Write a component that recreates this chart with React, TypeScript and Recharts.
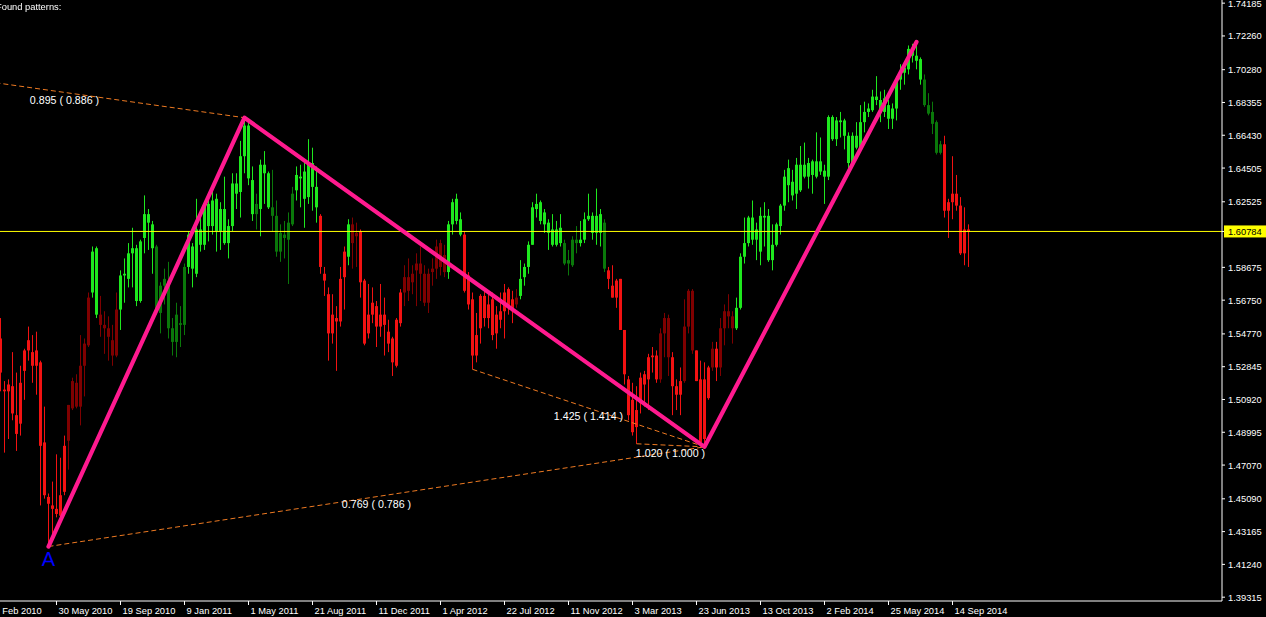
import { ComposedChart, Bar, Line, XAxis, YAxis, ReferenceLine, ReferenceDot } from 'recharts'

// GBPUSD weekly candles, first bar = week of 21 Feb 2010, last = week of 5 Oct 2014
// [open, high, low, close]
const weekly: [number, number, number, number][] = [
  [1.545,1.557,1.514,1.525],[1.515,1.520,1.478,1.514],[1.514,1.521,1.486,1.518],[1.517,1.537,1.497,1.501],
  [1.500,1.525,1.479,1.489],[1.495,1.529,1.488,1.519],[1.526,1.539,1.509,1.538],[1.538,1.552,1.532,1.544],
  [1.537,1.547,1.519,1.529],[1.529,1.549,1.512,1.538],[1.531,1.532,1.447,1.482],[1.484,1.505,1.451,1.453],
  [1.452,1.454,1.4229,1.448],[1.447,1.461,1.427,1.445],[1.445,1.477,1.440,1.442],[1.441,1.475,1.437,1.453],
  [1.455,1.488,1.453,1.482],[1.485,1.506,1.468,1.506],[1.504,1.522,1.503,1.520],[1.519,1.524,1.504,1.505],
  [1.505,1.547,1.494,1.529],[1.529,1.545,1.511,1.542],[1.541,1.572,1.540,1.569],[1.572,1.599,1.569,1.596],
  [1.598,1.599,1.557,1.559],[1.559,1.570,1.546,1.553],[1.553,1.561,1.536,1.551],[1.551,1.558,1.532,1.546],
  [1.544,1.553,1.529,1.535],[1.535,1.572,1.534,1.562],[1.562,1.585,1.550,1.582],[1.582,1.592,1.566,1.583],
  [1.580,1.601,1.575,1.595],[1.595,1.610,1.575,1.598],[1.598,1.600,1.564,1.567],[1.567,1.603,1.566,1.602],
  [1.604,1.629,1.595,1.618],[1.618,1.621,1.597,1.613],[1.612,1.614,1.583,1.598],[1.599,1.600,1.559,1.561],
  [1.560,1.578,1.548,1.576],[1.576,1.586,1.565,1.580],[1.579,1.590,1.545,1.551],[1.551,1.557,1.535,1.543],
  [1.543,1.566,1.534,1.559],[1.553,1.564,1.540,1.554],[1.553,1.589,1.547,1.587],[1.587,1.608,1.583,1.606],
  [1.599,1.601,1.575,1.586],[1.583,1.627,1.581,1.609],[1.609,1.619,1.596,1.600],[1.600,1.625,1.597,1.623],
  [1.624,1.627,1.602,1.611],[1.611,1.634,1.606,1.626],[1.627,1.630,1.596,1.608],[1.608,1.625,1.597,1.621],
  [1.621,1.640,1.600,1.601],[1.601,1.615,1.592,1.611],[1.611,1.642,1.608,1.636],[1.636,1.642,1.621,1.630],
  [1.631,1.661,1.616,1.652],[1.652,1.6746,1.642,1.670],[1.670,1.674,1.635,1.639],[1.638,1.646,1.614,1.618],
  [1.618,1.630,1.609,1.624],[1.621,1.650,1.605,1.647],[1.647,1.655,1.624,1.642],[1.642,1.643,1.621,1.622],
  [1.622,1.644,1.608,1.617],[1.617,1.626,1.593,1.596],[1.596,1.612,1.590,1.607],[1.606,1.614,1.592,1.604],
  [1.603,1.619,1.577,1.613],[1.612,1.634,1.611,1.630],[1.632,1.646,1.626,1.641],[1.640,1.647,1.622,1.639],
  [1.627,1.649,1.610,1.643],[1.628,1.662,1.624,1.647],[1.648,1.657,1.620,1.634],[1.634,1.646,1.613,1.622],
  [1.617,1.618,1.583,1.587],[1.583,1.587,1.570,1.579],[1.571,1.575,1.532,1.548],[1.548,1.571,1.542,1.559],
  [1.557,1.564,1.526,1.555],[1.555,1.587,1.552,1.580],[1.581,1.599,1.562,1.596],[1.593,1.615,1.588,1.612],
  [1.612,1.616,1.586,1.601],[1.605,1.613,1.587,1.607],[1.608,1.609,1.569,1.578],[1.579,1.580,1.541,1.542],
  [1.548,1.577,1.545,1.559],[1.559,1.575,1.554,1.566],[1.564,1.567,1.540,1.552],[1.552,1.577,1.546,1.559],
  [1.559,1.569,1.535,1.553],[1.549,1.556,1.537,1.542],[1.545,1.546,1.523,1.531],[1.529,1.557,1.528,1.556],
  [1.554,1.574,1.552,1.572],[1.572,1.588,1.564,1.581],[1.581,1.592,1.567,1.573],[1.578,1.588,1.571,1.583],
  [1.585,1.595,1.564,1.589],[1.589,1.599,1.567,1.583],[1.583,1.588,1.564,1.566],[1.566,1.586,1.560,1.583],
  [1.584,1.592,1.576,1.586],[1.586,1.603,1.580,1.599],[1.601,1.603,1.582,1.587],[1.584,1.600,1.581,1.594],
  [1.584,1.614,1.580,1.612],[1.612,1.627,1.606,1.625],[1.627,1.630,1.612,1.614],[1.615,1.619,1.605,1.606],
  [1.606,1.608,1.572,1.573],[1.582,1.584,1.562,1.565],[1.568,1.572,1.5269,1.535],[1.535,1.560,1.531,1.547],
  [1.551,1.571,1.542,1.570],[1.570,1.575,1.552,1.557],[1.557,1.571,1.551,1.565],[1.568,1.572,1.544,1.547],
  [1.548,1.564,1.539,1.559],[1.556,1.572,1.551,1.561],[1.561,1.577,1.545,1.572],[1.574,1.575,1.559,1.564],
  [1.561,1.573,1.554,1.568],[1.565,1.574,1.563,1.569],[1.570,1.591,1.568,1.580],[1.581,1.589,1.576,1.587],
  [1.587,1.602,1.583,1.600],[1.600,1.625,1.600,1.622],[1.621,1.630,1.616,1.624],[1.625,1.626,1.612,1.614],
  [1.612,1.621,1.607,1.619],[1.613,1.615,1.597,1.607],[1.609,1.618,1.599,1.600],[1.600,1.614,1.599,1.609],
  [1.610,1.618,1.599,1.601],[1.601,1.603,1.588,1.589],[1.589,1.597,1.582,1.591],[1.588,1.605,1.587,1.603],
  [1.603,1.611,1.595,1.601],[1.601,1.614,1.599,1.603],[1.603,1.619,1.601,1.615],[1.615,1.630,1.614,1.617],
  [1.617,1.619,1.603,1.607],[1.607,1.633,1.600,1.617],[1.618,1.621,1.599,1.607],[1.613,1.615,1.584,1.586],
  [1.585,1.587,1.574,1.580],[1.576,1.588,1.569,1.569],[1.569,1.580,1.563,1.579],[1.580,1.580,1.550,1.550],
  [1.550,1.550,1.518,1.524],[1.521,1.523,1.497,1.500],[1.509,1.519,1.488,1.490],[1.493,1.517,1.4832,1.503],
  [1.507,1.525,1.501,1.522],[1.524,1.526,1.505,1.518],[1.521,1.536,1.503,1.534],[1.534,1.540,1.525,1.535],
  [1.535,1.538,1.519,1.521],[1.521,1.551,1.519,1.548],[1.548,1.560,1.534,1.557],[1.557,1.559,1.523,1.534],
  [1.534,1.537,1.500,1.517],[1.517,1.521,1.503,1.512],[1.512,1.528,1.500,1.520],[1.520,1.568,1.519,1.552],
  [1.552,1.574,1.548,1.573],[1.573,1.574,1.536,1.538],[1.538,1.538,1.520,1.520],[1.521,1.532,1.484,1.484],
  [1.486,1.531,1.4814,1.521],[1.510,1.529,1.509,1.528],[1.528,1.543,1.526,1.539],[1.539,1.543,1.520,1.528],
  [1.528,1.557,1.523,1.551],[1.551,1.565,1.541,1.561],[1.561,1.571,1.551,1.558],[1.558,1.561,1.542,1.551],
  [1.551,1.569,1.550,1.563],[1.563,1.595,1.562,1.593],[1.593,1.616,1.589,1.601],[1.601,1.617,1.599,1.616],
  [1.616,1.626,1.600,1.603],[1.603,1.613,1.591,1.609],[1.596,1.622,1.588,1.617],[1.616,1.625,1.599,1.617],
  [1.617,1.621,1.590,1.591],[1.591,1.612,1.585,1.600],[1.600,1.613,1.599,1.612],[1.611,1.624,1.606,1.623],
  [1.623,1.644,1.620,1.640],[1.635,1.650,1.625,1.645],[1.637,1.644,1.626,1.629],[1.630,1.651,1.621,1.647],
  [1.632,1.658,1.631,1.647],[1.640,1.660,1.639,1.647],[1.648,1.651,1.633,1.640],[1.641,1.650,1.630,1.649],
  [1.649,1.666,1.639,1.640],[1.643,1.663,1.641,1.649],[1.6435,1.647,1.624,1.640],[1.640,1.676,1.638,1.675],
  [1.675,1.676,1.661,1.662],[1.662,1.675,1.658,1.673],[1.673,1.678,1.663,1.672],[1.673,1.674,1.656,1.664],
  [1.664,1.666,1.645,1.648],[1.648,1.666,1.646,1.664],[1.664,1.672,1.656,1.657],[1.657,1.682,1.656,1.672],
  [1.672,1.684,1.666,1.678],[1.678,1.683,1.675,1.680],[1.679,1.691,1.678,1.687],[1.687,1.699,1.682,1.685],
  [1.685,1.690,1.672,1.678],[1.678,1.691,1.675,1.686],[1.682,1.685,1.668,1.674],[1.674,1.683,1.668,1.680],
  [1.680,1.699,1.673,1.697],[1.697,1.706,1.691,1.702],[1.701,1.707,1.694,1.704],[1.703,1.717,1.700,1.715],
  [1.715,1.718,1.707,1.711],[1.711,1.7191,1.703,1.708],[1.709,1.710,1.694,1.697],[1.697,1.700,1.681,1.682],
  [1.682,1.689,1.676,1.677],[1.678,1.684,1.665,1.671],[1.672,1.673,1.653,1.654],[1.654,1.661,1.653,1.659],
  [1.659,1.664,1.616,1.620],[1.620,1.627,1.604,1.625],[1.625,1.652,1.615,1.630],[1.630,1.641,1.620,1.623],
  [1.623,1.628,1.594,1.595],[1.595,1.622,1.588,1.609],[1.609,1.612,1.587,1.6078],
]

// candle colour regime, run-length: R bright red, r dark red, G bright green, g dark green
const toneRuns: [string, number][] = [
  ['R',17],['r',6],['G',2],['r',5],['G',9],['g',8],['G',17],['g',1],['G',3],['g',6],['G',6],
  ['R',7],['G',1],['r',2],['R',11],['r',11],['G',4],['R',13],['r',1],['G',11],['g',4],['G',6],
  ['g',1],['R',13],['r',3],['R',3],['r',3],['R',4],['r',1],['R',1],['r',4],['G',47],['g',5],['R',7],
]

const tickWeeks = [-2, 14, 30, 46, 62, 78, 94, 110, 126, 142, 158, 174, 190, 206, 222, 238]
const tickLabels = [
  '7 Feb 2010', '30 May 2010', '19 Sep 2010', '9 Jan 2011', '1 May 2011', '21 Aug 2011', '11 Dec 2011',
  '1 Apr 2012', '22 Jul 2012', '11 Nov 2012', '3 Mar 2013', '23 Jun 2013', '13 Oct 2013', '2 Feb 2014',
  '25 May 2014', '14 Sep 2014',
]

const priceTicks = [
  1.74185, 1.7226, 1.7028, 1.68355, 1.6643, 1.64505, 1.62525, 1.58675, 1.5675,
  1.5477, 1.52845, 1.5092, 1.48995, 1.4707, 1.4509, 1.43165, 1.4124, 1.39315,
]
const lastPrice = 1.60784

// harmonic pattern pivots (week index, price)
const pivots = [
  { i: 12, p: 1.4229 },
  { i: 61, p: 1.6746 },
  { i: 176, p: 1.4814 },
  { i: 229, p: 1.7191 },
]

const ratioLines = [
  { a: { i: -29, p: 1.7043 }, b: { i: 61, p: 1.6746 }, text: '0.895 ( 0.886 )' },
  { a: { i: 12, p: 1.4229 }, b: { i: 176, p: 1.4814 }, text: '0.769 ( 0.786 )' },
  { a: { i: 118, p: 1.5269 }, b: { i: 176, p: 1.4814 }, text: '1.425 ( 1.414 )' },
  { a: { i: 159, p: 1.4832 }, b: { i: 176, p: 1.4814 }, text: '1.020 ( 1.000 )' },
]

const tones = toneRuns.flatMap(([t, n]) => Array(n).fill(t))
const rows = weekly.map(([open, high, low, close], i) => ({
  i, open, high, low, close, tone: tones[i], range: [low, high],
}))

const toneColor: Record<string, string> = {
  R: '#f21212',
  r: '#7f0000',
  G: '#1ee81e',
  g: '#0a780a',
}

const FONT = '"Liberation Sans", Arial, sans-serif'

function Candle(props: any) {
  const { x, y, width, height, payload } = props
  if (!payload || height == null) return null
  const top = Math.min(y, y + height)
  const h = Math.abs(height)
  const { open, close, high, low, tone } = payload
  const color = toneColor[tone]
  const cx = Math.floor(x + width / 2) + 0.5
  const k = h / (high - low)
  const bTop = top + (high - Math.max(open, close)) * k
  const bBot = top + (high - Math.min(open, close)) * k
  return (
    <g>
      <line x1={cx} x2={cx} y1={top} y2={top + h} stroke={color} strokeWidth={1} />
      <rect x={cx - 1.5} y={bTop} width={3} height={Math.max(1, bBot - bTop)} fill={color} />
    </g>
  )
}

function DateTick({ x, y, payload }: any) {
  const k = tickWeeks.indexOf(payload.value)
  return (
    <text x={x + 2} y={y + 7} fill="#fff" fontSize={9.33} fontFamily={FONT} textAnchor="start">
      {tickLabels[k]}
    </text>
  )
}

function PriceTick({ x, y, payload }: any) {
  const v = payload.value
  if (v === lastPrice) {
    return (
      <g>
        <rect x={x - 4} y={y - 6} width={44} height={12} fill="#ffff00" />
        <text x={x} y={y + 3.5} fill="#000" fontSize={9.33} fontFamily={FONT}>{v.toFixed(5)}</text>
      </g>
    )
  }
  return (
    <text x={x} y={y + 3.5} fill="#fff" fontSize={9.33} fontFamily={FONT}>{v.toFixed(5)}</text>
  )
}

export default function App() {
  return (
    <div style={{ position: 'fixed', left: 0, top: 0, width: 1266, height: 617, background: '#000', fontFamily: FONT }}>
      <ComposedChart width={1266} height={617} data={rows} margin={{ top: 0, right: 0, bottom: 0, left: 0 }}>
        <XAxis
          dataKey="i" type="number" domain={[-0.125, 305.375]} allowDataOverflow
          ticks={tickWeeks} interval={0} tick={<DateTick />} height={16} tickSize={4}
          axisLine={{ stroke: '#fff' }} tickLine={{ stroke: '#fff' }}
        />
        <YAxis
          orientation="right" type="number" domain={[1.39091, 1.7437]} allowDataOverflow
          ticks={[...priceTicks, lastPrice]} interval={0} tick={<PriceTick />} width={44}
          tickSize={3} tickMargin={3} axisLine={{ stroke: '#fff' }} tickLine={{ stroke: '#fff' }}
        />
        <Bar dataKey="range" barSize={3} shape={<Candle />} isAnimationActive={false} />
        <ReferenceLine y={lastPrice} stroke="#ffff00" strokeWidth={1} />
        {ratioLines.map((l, n) => (
          <Line
            key={'r' + n} data={[l.a, l.b]} dataKey="p" type="linear" stroke="#ee7a22" strokeWidth={1}
            strokeDasharray="5 3" dot={false} activeDot={false} isAnimationActive={false}
          />
        ))}
        <Line
          data={pivots} dataKey="p" type="linear" stroke="#ff1a8f" strokeWidth={4.2}
          strokeLinejoin="round" strokeLinecap="round" dot={false} activeDot={false} isAnimationActive={false}
        />
        {ratioLines.map((l, n) => (
          <ReferenceDot
            key={'t' + n} x={(l.a.i + l.b.i) / 2} y={(l.a.p + l.b.p) / 2} r={0}
            shape={(p: any) => (
              <text x={p.cx} y={p.cy + 11.5} fill="#fff" fontSize={10.67} fontFamily={FONT} textAnchor="middle">
                {l.text}
              </text>
            )}
          />
        ))}
        <ReferenceDot
          x={pivots[0].i} y={pivots[0].p} r={0}
          shape={(p: any) => (
            <text x={p.cx} y={p.cy + 19} fill="#0000ff" fontSize={20} fontFamily={FONT} textAnchor="middle">A</text>
          )}
        />
      </ComposedChart>
      <div style={{ position: 'absolute', left: -4, top: 2, color: '#fff', fontSize: 9.33, lineHeight: '11px' }}>
        Found patterns:
      </div>
    </div>
  )
}
